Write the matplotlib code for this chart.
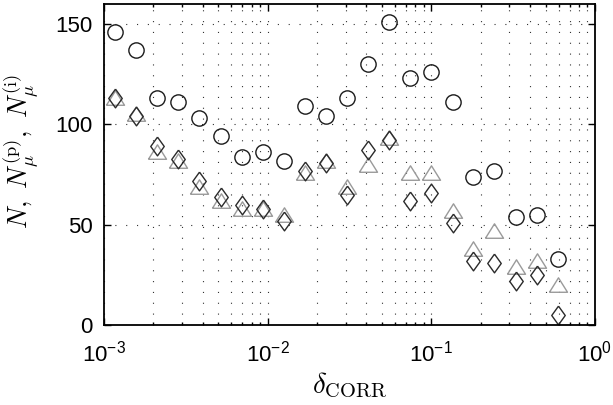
import matplotlib
matplotlib.use("Agg")
import matplotlib.pyplot as plt
from matplotlib.ticker import LogLocator, MultipleLocator, NullFormatter

plt.rcParams['font.family'] = ['Liberation Sans', 'DejaVu Sans']
plt.rcParams['mathtext.fontset'] = 'cm'
plt.rcParams['lines.scale_dashes'] = False

# delta_CORR values (log-spaced)
delta = [1.17e-3, 1.57e-3, 2.10e-3, 2.83e-3, 3.80e-3, 5.16e-3, 6.94e-3, 9.32e-3,
         1.26e-2, 1.69e-2, 2.27e-2, 3.04e-2, 4.12e-2, 5.53e-2, 7.40e-2, 0.100,
         0.135, 0.180, 0.242, 0.329, 0.440, 0.596]
N_all = [146, 137, 113, 111, 103, 94, 84, 86, 82, 109, 104, 113,
         130, 151, 123, 126, 111, 74, 77, 54, 55, 33]
N_p = [113, 105, 86, 82, 69, 62, 58, 58, 55, 76, 82, 69,
       80, 93, 76, 76, 57, 38, 47, 29, 32, 20]
N_i = [113, 104, 89, 83, 72, 64, 60, 58, 52, 77, 81, 65,
       87, 92, 62, 66, 51, 32, 31, 22, 25, 5]

tri = [(-1, -0.75), (1, -0.75), (0, 0.85), (-1, -0.75)]
dia = [(0, 1), (0.72, 0), (0, -1), (-0.72, 0), (0, 1)]

fig = plt.figure(figsize=(6.13, 4.05), dpi=100)
ax = fig.add_axes([0.1697, 0.1975, 0.8009, 0.7925])

ax.plot(delta, N_all, 'o', ms=11, mfc='none', mec='#1a1a1a', mew=1.0)
ax.plot(delta, N_p, ls='none', marker=tri, ms=13, mfc='none', mec='#9a9a9a', mew=1.0)
ax.plot(delta, N_i, ls='none', marker=dia, ms=13.5, mfc='none', mec='#2a2a2a', mew=1.0)

ax.set_xscale('log')
ax.set_xlim(1e-3, 1)
ax.set_ylim(0, 160)
ax.xaxis.set_major_locator(LogLocator(base=10, numticks=10))
ax.xaxis.set_minor_locator(LogLocator(base=10, subs=range(2, 10), numticks=10))
ax.xaxis.set_minor_formatter(NullFormatter())
ax.yaxis.set_major_locator(MultipleLocator(50))

ax.grid(True, which='major', axis='both', color='#333333', linestyle=(0, (0.8, 7)), linewidth=0.8)
ax.grid(True, which='minor', axis='x', color='#333333', linestyle=(0, (0.8, 7)), linewidth=0.8)

ax.tick_params(which='both', direction='in', top=True, right=True, labelsize=16, width=1)
ax.tick_params(which='major', length=5)
ax.tick_params(which='minor', length=2.5)
ax.tick_params(axis='x', which='major', pad=11)
ax.tick_params(axis='y', which='major', pad=8)
for s in ax.spines.values():
    s.set_linewidth(1.3)

ax.set_xlabel(r'$\delta_{\mathrm{CORR}}$', fontsize=21, labelpad=3)
ax.set_ylabel(r'$N,\ N_\mu^{(\mathrm{p})},\ N_\mu^{(\mathrm{i})}$', fontsize=19)
ax.yaxis.set_label_coords(-0.128, 0.54)

fig.savefig('out.png', dpi=100)
